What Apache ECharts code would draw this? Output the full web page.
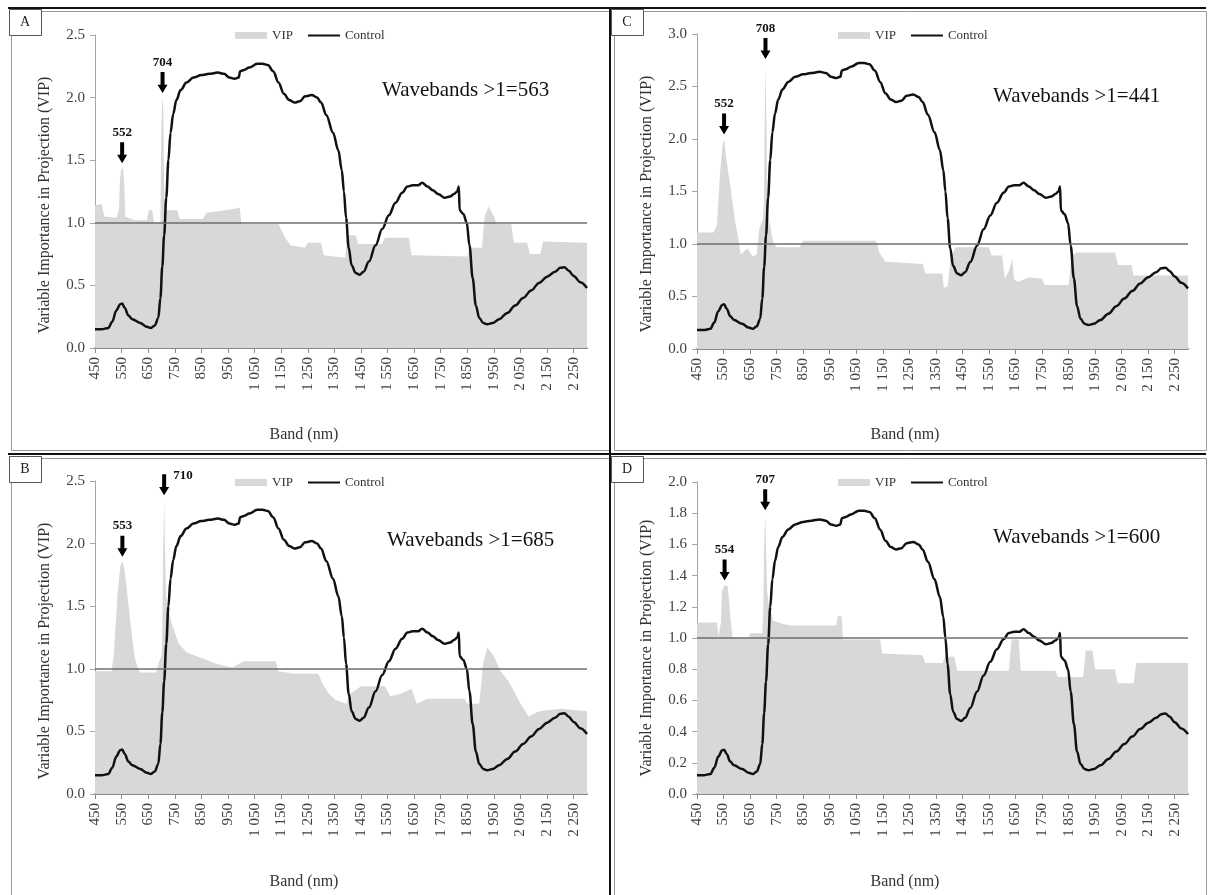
<!DOCTYPE html>
<html>
<head>
<meta charset="utf-8">
<script src="https://cdn.jsdelivr.net/npm/echarts@6/dist/echarts.min.js"></script>
<style>
  html, body { margin: 0; padding: 0; background: #ffffff; }
  #chart { width: 1208px; height: 895px; }
</style>
</head>
<body>
<div id="chart"></div>
<script>
// Band tick positions (nm) shown on every x axis
const bandTicks = [450, 550, 650, 750, 850, 950, 1050, 1150, 1250, 1350, 1450,
                   1550, 1650, 1750, 1850, 1950, 2050, 2150, 2250];

// Control reflectance curve [band nm, value on the 0-2.5 scale]
const control = [
  [450,0.15],[475,0.15],[500,0.16],[515,0.21],[530,0.30],[545,0.35],[552,0.355],[562,0.32],
  [575,0.26],[590,0.23],[620,0.20],[645,0.17],[660,0.16],[675,0.18],[688,0.24],[696,0.40],
  [703,0.65],[710,0.90],[718,1.20],[726,1.50],[734,1.72],[744,1.87],[756,1.98],[772,2.06],
  [794,2.12],[820,2.16],[850,2.18],[880,2.19],[912,2.20],[935,2.19],[955,2.16],[975,2.15],
  [990,2.16],[996,2.21],[1010,2.22],[1030,2.24],[1060,2.27],[1080,2.27],[1100,2.26],
  [1120,2.21],[1140,2.12],[1160,2.03],[1180,1.98],[1200,1.96],[1220,1.97],[1240,2.01],
  [1265,2.02],[1285,2.00],[1300,1.96],[1320,1.86],[1345,1.72],[1365,1.58],[1378,1.42],
  [1386,1.25],[1394,1.04],[1404,0.80],[1415,0.66],[1430,0.60],[1445,0.585],[1460,0.61],
  [1480,0.69],[1505,0.82],[1530,0.95],[1555,1.06],[1580,1.16],[1605,1.24],[1625,1.29],
  [1645,1.30],[1665,1.30],[1680,1.32],[1700,1.29],[1720,1.26],[1740,1.23],[1765,1.20],
  [1785,1.21],[1800,1.23],[1812,1.25],[1818,1.29],[1821,1.10],[1835,1.07],[1848,1.00],
  [1858,0.82],[1870,0.56],[1882,0.34],[1895,0.24],[1910,0.20],[1925,0.19],[1945,0.20],
  [1970,0.23],[2000,0.28],[2030,0.34],[2060,0.40],[2090,0.46],[2120,0.52],[2150,0.57],
  [2180,0.61],[2200,0.64],[2215,0.645],[2230,0.62],[2250,0.575],[2275,0.525],[2300,0.48]
];

// VIP scores per panel [band nm, VIP]
const vipA = [
  [450,1.14],[475,1.15],[485,1.05],[530,1.04],[540,1.10],[544,1.35],[548,1.42],[552,1.44],
  [556,1.42],[560,1.30],[564,1.05],[600,1.02],[645,1.02],[652,1.10],[665,1.10],[672,1.00],
  [696,1.00],[699,1.70],[702,1.95],[704,2.00],[707,1.90],[710,1.30],[714,1.10],[760,1.10],
  [768,1.03],[855,1.03],[870,1.08],[940,1.10],[995,1.12],[1000,0.99],[1140,0.99],[1165,0.88],
  [1185,0.82],[1240,0.80],[1250,0.84],[1300,0.84],[1310,0.74],[1390,0.72],[1400,0.90],
  [1430,0.90],[1440,0.83],[1530,0.83],[1540,0.88],[1630,0.88],[1640,0.74],[1850,0.73],
  [1860,0.80],[1905,0.80],[1915,1.05],[1930,1.13],[1950,1.05],[1960,0.99],[2015,0.99],
  [2025,0.84],[2075,0.84],[2085,0.75],[2125,0.75],[2135,0.85],[2300,0.84]
];
const vipB = [
  [450,0.98],[512,0.98],[520,1.10],[535,1.60],[545,1.82],[553,1.86],[562,1.78],[580,1.43],
  [598,1.10],[612,1.00],[620,0.97],[680,0.97],[690,1.05],[700,1.10],[703,1.25],[706,1.90],
  [710,2.35],[713,2.00],[717,1.60],[722,1.50],[740,1.35],[765,1.20],[795,1.13],[845,1.09],
  [905,1.04],[965,1.01],[1010,1.06],[1130,1.06],[1140,0.98],[1200,0.96],[1290,0.96],
  [1305,0.88],[1330,0.80],[1355,0.75],[1395,0.72],[1410,0.80],[1450,0.86],[1540,0.86],
  [1560,0.78],[1600,0.80],[1640,0.84],[1660,0.72],[1700,0.76],[1840,0.76],[1850,0.72],
  [1895,0.72],[1910,1.05],[1925,1.17],[1950,1.10],[1975,0.98],[2005,0.90],[2045,0.74],
  [2080,0.62],[2120,0.66],[2200,0.68],[2300,0.66]
];
const vipC = [
  [450,1.11],[512,1.11],[525,1.18],[537,1.68],[547,1.96],[552,2.00],[560,1.82],[575,1.56],
  [594,1.21],[606,1.05],[615,0.90],[640,0.96],[660,0.88],[675,0.90],[685,1.15],[699,1.24],
  [702,1.40],[705,2.20],[708,2.72],[711,2.20],[715,1.40],[720,1.25],[737,1.02],[750,0.97],
  [837,0.97],[850,1.03],[1125,1.03],[1137,0.92],[1160,0.83],[1300,0.81],[1310,0.72],
  [1375,0.72],[1380,0.58],[1395,0.60],[1405,0.86],[1425,0.97],[1550,0.97],[1560,0.89],
  [1600,0.89],[1610,0.67],[1625,0.74],[1637,0.86],[1645,0.66],[1660,0.64],[1700,0.68],
  [1750,0.67],[1760,0.61],[1850,0.61],[1862,0.89],[1880,0.92],[2025,0.92],[2037,0.80],
  [2087,0.80],[2095,0.70],[2300,0.70]
];
const vipD = [
  [450,1.10],[525,1.10],[531,1.01],[540,1.10],[544,1.30],[554,1.34],[566,1.33],[575,1.15],
  [584,1.00],[645,1.00],[650,1.03],[696,1.03],[700,1.20],[703,1.60],[707,1.79],[710,1.60],
  [714,1.30],[720,1.22],[737,1.11],[775,1.09],[800,1.08],[975,1.08],[980,1.14],[995,1.14],
  [1000,0.99],[1140,0.99],[1148,0.90],[1300,0.89],[1310,0.84],[1375,0.84],[1385,0.88],
  [1420,0.88],[1430,0.79],[1625,0.79],[1635,0.99],[1662,0.99],[1670,0.79],[1800,0.79],
  [1810,0.75],[1905,0.75],[1915,0.92],[1940,0.92],[1950,0.80],[2025,0.80],[2035,0.71],
  [2095,0.71],[2105,0.84],[2300,0.84]
];

// Marked peak bands and counts of wavebands with VIP > 1
const peaksA = [552, 704];
const peaksB = [553, 710];
const peaksC = [552, 708];
const peaksD = [554, 707];
const wavebandsA = 563;
const wavebandsB = 685;
const wavebandsC = 441;
const wavebandsD = 600;

const SERIF = '"Liberation Serif", "Times New Roman", Times, serif';
const VIP_GREY = '#d8d8d8';

const panels = [
  { id: 'A', vip: vipA, peaks: peaksA, count: wavebandsA, yMax: 2.5, yStep: 0.5,
    grid: { left: 95, top: 35, width: 492, height: 313 },
    box: [9, 9], legend: [230, 24], note: [382, 90], yTitle: [45, 205], xTitle: [304, 435] },
  { id: 'B', vip: vipB, peaks: peaksB, count: wavebandsB, yMax: 2.5, yStep: 0.5, sideLabel: 710,
    grid: { left: 95, top: 481, width: 492, height: 313 },
    box: [9, 456], legend: [230, 471], note: [387, 540], yTitle: [45, 651], xTitle: [304, 882] },
  { id: 'C', vip: vipC, peaks: peaksC, count: wavebandsC, yMax: 3.0, yStep: 0.5,
    grid: { left: 697, top: 34, width: 491, height: 315 },
    box: [611, 9], legend: [833, 24], note: [993, 96], yTitle: [647, 204], xTitle: [905, 435] },
  { id: 'D', vip: vipD, peaks: peaksD, count: wavebandsD, yMax: 2.0, yStep: 0.2,
    grid: { left: 697, top: 482, width: 491, height: 312 },
    box: [611, 456], legend: [833, 471], note: [993, 537], yTitle: [647, 648], xTitle: [905, 882] }
];

function bandLabel(v) {
  if (v >= 1000) return Math.floor(v / 1000) + ' ' + String(v % 1000).padStart(3, '0');
  return String(v);
}

const ARROW = 'path://M3,0 L7,0 L7,12 L10,12 L5,20 L0,12 L3,12 Z';

const grids = [], xAxes = [], yAxes = [], series = [], legends = [], graphics = [];

panels.forEach((p, i) => {
  grids.push(Object.assign({ containLabel: false }, p.grid));

  xAxes.push({
    type: 'value', gridIndex: i, min: 450, max: 2300,
    axisLine: { show: true, onZero: true, lineStyle: { color: '#8a8a8a', width: 2 } },
    axisTick: { show: true, customValues: bandTicks, length: 5, lineStyle: { color: '#8a8a8a' } },
    axisLabel: { customValues: bandTicks, rotate: 90, margin: 9, formatter: bandLabel,
                 fontFamily: SERIF, fontSize: 15, color: '#404040' },
    splitLine: { show: false }
  });

  yAxes.push({
    type: 'value', gridIndex: i, min: 0, max: p.yMax, interval: p.yStep,
    axisLine: { show: true, lineStyle: { color: '#a6a6a6', width: 1 } },
    axisTick: { show: true, length: 5, lineStyle: { color: '#a6a6a6' } },
    axisLabel: { margin: 10, formatter: v => v.toFixed(1), fontFamily: SERIF, fontSize: 15, color: '#404040' },
    splitLine: { show: false }
  });
  // control reflectance uses its own hidden scale
  yAxes.push({ type: 'value', gridIndex: i, min: 0, max: 2.5, show: false, splitLine: { show: false } });

  const vipAt = nm => p.vip.find(d => d[0] === nm)[1];

  series.push({
    name: 'VIP', type: 'line', xAxisIndex: i, yAxisIndex: 2 * i, data: p.vip,
    symbol: 'none', showSymbol: false, z: 1,
    itemStyle: { color: VIP_GREY },
    lineStyle: { width: 0, color: VIP_GREY },
    areaStyle: { color: VIP_GREY, opacity: 1 },
    markLine: {
      silent: true, symbol: 'none', label: { show: false },
      lineStyle: { color: '#6e6e6e', width: 1.5, type: 'solid' },
      data: [{ yAxis: 1 }]
    },
    markPoint: {
      silent: true, symbol: ARROW, symbolSize: [10, 21], symbolOffset: [0, -15],
      itemStyle: { color: '#000000' },
      label: { show: true, position: 'top', distance: 3, formatter: '{b}',
               fontFamily: SERIF, fontSize: 13, fontWeight: 'bold', color: '#111111' },
      data: p.peaks.map(nm => {
        const item = { name: String(nm), coord: [nm, vipAt(nm)] };
        if (p.sideLabel === nm) item.label = { position: 'right', distance: 4, offset: [0, -9] };
        return item;
      })
    }
  });

  series.push({
    name: 'Control', type: 'line', xAxisIndex: i, yAxisIndex: 2 * i + 1, data: control,
    symbol: 'none', showSymbol: false, smooth: 0.35, smoothMonotone: 'x', z: 3,
    itemStyle: { color: '#111111' },
    lineStyle: { color: '#111111', width: 2.5 }
  });

  legends.push({
    left: p.legend[0], top: p.legend[1], orient: 'horizontal',
    itemWidth: 32, itemHeight: 7, itemGap: 14, selectedMode: false,
    textStyle: { fontFamily: SERIF, fontSize: 13, color: '#333333' },
    data: [
      { name: 'VIP', icon: 'rect' },
      { name: 'Control', itemStyle: { color: 'rgba(0,0,0,0)', opacity: 0, borderWidth: 0 },
        lineStyle: { width: 2, color: '#111111' } }
    ]
  });

  // panel letter
  graphics.push({ type: 'rect', left: p.box[0], top: p.box[1], z: 10,
    shape: { width: 32, height: 26 }, style: { fill: '#ffffff', stroke: '#555555', lineWidth: 1 } });
  graphics.push({ type: 'text', x: p.box[0] + 16, y: p.box[1] + 13, z: 11,
    style: { text: p.id, font: '14px ' + SERIF, fill: '#222222', align: 'center', verticalAlign: 'middle' } });

  // waveband count note
  graphics.push({ type: 'text', x: p.note[0], y: p.note[1], z: 11,
    style: { text: 'Wavebands >1=' + p.count, font: '21px ' + SERIF, fill: '#111111',
             align: 'left', verticalAlign: 'middle' } });

  // axis titles
  graphics.push({ type: 'text', x: p.yTitle[0], y: p.yTitle[1], rotation: Math.PI / 2, z: 11,
    style: { text: 'Variable Importance in Projection (VIP)', font: '16px ' + SERIF, fill: '#333333',
             align: 'center', verticalAlign: 'middle' } });
  graphics.push({ type: 'text', x: p.xTitle[0], y: p.xTitle[1], z: 11,
    style: { text: 'Band (nm)', font: '16px ' + SERIF, fill: '#333333',
             align: 'center', verticalAlign: 'middle' } });
});

// panel frames and dividers
const frames = [[9, 9, 599, 439], [9, 456, 599, 437], [612, 9, 592, 439], [612, 456, 592, 437]];
frames.forEach(f => graphics.push({ type: 'rect', left: f[0], top: f[1], z: 0, silent: true,
  shape: { width: f[2], height: f[3] }, style: { fill: null, stroke: '#9a9a9a', lineWidth: 1 } }));
const rules = [[8, 8, 1206, 8], [8, 454, 1206, 454], [610, 8, 610, 895]];
rules.forEach(r => graphics.push({ type: 'line', z: 9, silent: true,
  shape: { x1: r[0], y1: r[1], x2: r[2], y2: r[3] }, style: { stroke: '#111111', lineWidth: 2 } }));

const chart = echarts.init(document.getElementById('chart'), null, { renderer: 'canvas' });
chart.setOption({
  animation: false,
  backgroundColor: '#ffffff',
  grid: grids,
  xAxis: xAxes,
  yAxis: yAxes,
  legend: legends,
  series: series,
  graphic: graphics
});
</script>
</body>
</html>
